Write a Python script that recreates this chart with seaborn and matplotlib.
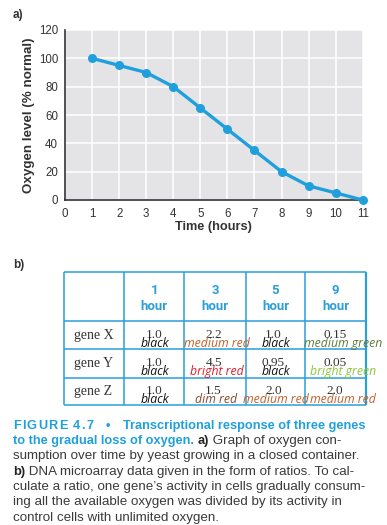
import matplotlib
matplotlib.use("Agg")
import matplotlib.pyplot as plt
import seaborn as sns
import pandas as pd

# ---------------- data ----------------
hours = [1, 2, 3, 4, 5, 6, 7, 8, 9, 10, 11]
oxygen = [100, 95, 90, 80, 65, 50, 35, 20, 10, 5, 0]

col_hours = ["1", "3", "5", "9"]
genes = ["gene X", "gene Y", "gene Z"]
ratios = [["1.0", "2.2", "1.0", "0.15"],
          ["1.0", "4.5", "0.95", "0.05"],
          ["1.0", "1.5", "2.0", "2.0"]]
color_names = [["black", "medium red", "black", "medium green"],
               ["black", "bright red", "black", "bright green"],
               ["black", "dim red", "medium red", "medium red"]]

# ---------------- styles ----------------
BLUE = "#1fa0dc"
TBL = "#2a9fd8"
name_colors = {"black": "#111111", "medium red": "#c0612b", "bright red": "#e31d2c",
               "dim red": "#8a4a2c", "medium green": "#5c7c3a", "bright green": "#8cc63f"}
SANS = ["Liberation Sans", "DejaVu Sans"]

sns.set_style("white")
plt.rcParams["font.family"] = SANS

W, H = 387, 525
fig = plt.figure(figsize=(W / 100, H / 100), dpi=100)

# ---------------- panel a ----------------
L, R, T, B = 65, 362.7, 30, 200
ax = fig.add_axes([L / W, 1 - B / H, (R - L) / W, (B - T) / H])
ax.set_facecolor("#e4e4e6")
df = pd.DataFrame({"Time": hours, "Oxygen": oxygen})
sns.lineplot(data=df, x="Time", y="Oxygen", ax=ax, color=BLUE, marker="o",
             markersize=6.5, markeredgewidth=0, linewidth=2.4, clip_on=False, zorder=5)
ax.set_xlim(0, 11)
ax.set_ylim(0, 120)
ax.set_xticks(range(0, 12))
ax.set_yticks(range(0, 121, 20))
ax.grid(True, color="white", linewidth=1.1)
ax.set_axisbelow(True)
for s in ["top", "right"]:
    ax.spines[s].set_visible(False)
for s in ["left", "bottom"]:
    ax.spines[s].set_color("#222222")
    ax.spines[s].set_linewidth(1.1)
ax.tick_params(axis="both", direction="out", length=3.5, width=1, color="#222222",
               labelsize=8.3, labelcolor="#333333")
ax.tick_params(axis="y", pad=1.5)
ax.tick_params(axis="x", pad=2)
ax.set_xlabel("Time (hours)", fontsize=9.2, fontweight="bold", color="#333333", labelpad=1)
ax.set_ylabel("Oxygen level (% normal)", fontsize=9.6, fontweight="bold", color="#333333", labelpad=3)

# ---------------- overlay in pixel coords ----------------
ov = fig.add_axes([0, 0, 1, 1], facecolor="none")
ov.set_xlim(0, W)
ov.set_ylim(H, 0)
ov.axis("off")

ov.text(13, 15, "a)", fontsize=8.5, fontweight="bold", color="#333333", va="center", ha="left")
ov.text(13, 265, "b)", fontsize=8.5, fontweight="bold", color="#333333", va="center", ha="left")

# table grid
xs = [64, 124.3, 184.3, 245.7, 305.3, 366]
ys = [271.7, 321, 349.3, 377.7, 405]
for y in ys:
    ov.plot([xs[0], xs[-1]], [y, y], color=TBL, lw=1.1, solid_capstyle="butt")
for i, x in enumerate(xs):
    ov.plot([x, x], [ys[0], ys[-1]], color=TBL, lw=1.6 if i == len(xs) - 1 else 1.1,
            solid_capstyle="butt")

centers = [(xs[i] + xs[i + 1]) / 2 for i in range(1, 5)]
row_c = [(ys[i + 1] + ys[i + 2]) / 2 for i in range(3)]
for c, h in zip(centers, col_hours):
    ov.text(c, 290, h, fontsize=9.5, fontweight="bold", color=TBL, ha="center", va="center",
            family=["Roboto", "DejaVu Sans"])
    ov.text(c, 306.5, "hour", fontsize=9.5, fontweight="bold", color=TBL, ha="center",
            va="center", family=["Roboto", "DejaVu Sans"])

val_off = [0, -1.5, -2, -1]
lab_off = [1, 1.5, 0.5, 7]
for r, g in enumerate(genes):
    yc = row_c[r]
    ov.text(74, yc, g, fontsize=10, color="#333333", ha="left", va="center",
            family=["Liberation Serif", "DejaVu Serif"])
    for ci in range(4):
        ov.text(centers[ci] + val_off[ci], yc - 0.5, ratios[r][ci], fontsize=9.5,
                color="#333333", ha="center", va="center",
                family=["Liberation Serif", "DejaVu Serif"])
        nm = color_names[r][ci]
        ov.text(centers[ci] + lab_off[ci], yc + 8, nm, fontsize=8.8, style="italic",
                color=name_colors[nm], ha="center", va="center",
                family=["Open Sans", "DejaVu Sans"])

# ---------------- caption ----------------
renderer = fig.canvas.get_renderer()


def width_of(s, **kw):
    t1 = ov.text(0, 0, s + "|", **kw)
    t2 = ov.text(0, 0, "|", **kw)
    w = t1.get_window_extent(renderer).width - t2.get_window_extent(renderer).width
    t1.remove()
    t2.remove()
    return w


CFS = 9.6
GRAY = "#3a3a3a"
cap_blue = dict(fontsize=9.2, fontweight="bold", color=BLUE)
cap_bold = dict(fontsize=9.3, fontweight="bold", color="#222222")
cap_norm = dict(fontsize=CFS, color=GRAY)


def runs(x, y, parts):
    for s, kw in parts:
        ov.text(x, y, s, va="baseline", ha="left", **kw)
        x += width_of(s, **kw)


# letter-spaced "FIGURE 4.7"
x = 13
y0 = 429
for ch in "FIGURE":
    ov.text(x, y0, ch, va="baseline", ha="left", **cap_blue)
    x += width_of(ch, **cap_blue) + 1.3
x += 4
for ch in "4.7":
    ov.text(x, y0, ch, va="baseline", ha="left", **cap_blue)
    x += width_of(ch, **cap_blue) + 1.3
ov.text(108, y0, "\u2022", va="baseline", ha="center", **cap_blue)
runs(123, y0, [("Transcriptional response of three genes", cap_blue)])

lines = [
    [("to the gradual loss of oxygen. ", cap_blue), ("a)", cap_bold), (" Graph of oxygen con-", cap_norm)],
    [("sumption over time by yeast growing in a closed container.", cap_norm)],
    [("b)", cap_bold), (" DNA microarray data given in the form of ratios. To cal-", cap_norm)],
    [("culate a ratio, one gene\u2019s activity in cells gradually consum-", cap_norm)],
    [("ing all the available oxygen was divided by its activity in", cap_norm)],
    [("control cells with unlimited oxygen.", cap_norm)],
]
for i, parts in enumerate(lines):
    runs(13, 444 + 15.3 * i, parts)

fig.savefig("out.png", dpi=100)
